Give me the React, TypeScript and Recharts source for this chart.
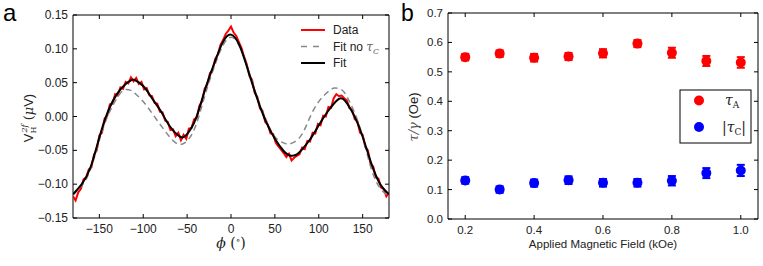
import {
  LineChart,
  Line,
  XAxis,
  YAxis,
  ReferenceArea,
  ScatterChart,
  Scatter,
  ErrorBar,
} from "recharts";

// ---------- panel a ----------
const fitPhi = [
  -180, -170, -160, -150, -140, -130, -120, -113, -110, -100, -90, -80, -70, -60, -55, -50, -40, -30, -20, -10,
  0, 10, 20, 30, 40, 50, 60, 68, 75, 80, 90, 100, 110, 120, 125, 130, 140, 150, 160, 170, 180,
];
const fitV = [
  -0.115, -0.1, -0.075, -0.031, 0.008, 0.033, 0.048, 0.054, 0.054, 0.045, 0.027, 0.008, -0.014, -0.028, -0.031,
  -0.026, -0.003, 0.038, 0.075, 0.108, 0.121, 0.104, 0.066, 0.026, -0.008, -0.033, -0.051, -0.058, -0.056,
  -0.05, -0.034, -0.013, 0.007, 0.023, 0.027, 0.023, 0.002, -0.03, -0.07, -0.1, -0.115,
];

const noTcPhi = [
  -180, -170, -160, -150, -140, -130, -122, -115, -110, -100, -90, -80, -70, -60, -50, -40, -30, -20, -10,
  0, 10, 20, 30, 40, 50, 60, 65, 70, 80, 90, 100, 110, 118, 125, 130, 140, 150, 160, 170, 180,
];
const noTcV = [
  -0.116, -0.102, -0.078, -0.035, 0.002, 0.027, 0.039, 0.039, 0.035, 0.022, 0.005, -0.013, -0.03, -0.041,
  -0.036, -0.013, 0.03, 0.07, 0.103, 0.117, 0.103, 0.068, 0.028, -0.005, -0.03, -0.039, -0.041, -0.039,
  -0.028, -0.001, 0.022, 0.036, 0.042, 0.04, 0.034, 0.008, -0.03, -0.078, -0.106, -0.118,
];

const dataPhi = [
  -180, -177, -174, -171, -168, -165, -162, -159, -156, -153, -150, -147, -144, -141, -138, -135, -132, -129,
  -126, -123, -120, -117, -114, -111, -108, -105, -102, -99, -96, -93, -90, -87, -84, -81, -78, -75, -72, -69,
  -66, -63, -60, -57, -54, -51, -48, -45, -42, -39, -36, -33, -30, -27, -24, -21, -18, -15, -12, -9, -6, -3,
  0, 3, 6, 9, 12, 15, 18, 21, 24, 27, 30, 33, 36, 39, 42, 45, 48, 51, 54, 57, 60, 63, 66, 69, 72, 75, 78, 81,
  84, 87, 90, 93, 96, 99, 102, 105, 108, 111, 114, 117, 120, 123, 126, 129, 132, 135, 138, 141, 144, 147, 150,
  153, 156, 159, 162, 165, 168, 171, 174, 177, 180,
];
const dataV = [
  -0.118, -0.124, -0.112, -0.107, -0.093, -0.09, -0.078, -0.075, -0.056, -0.05, -0.028, -0.024, -0.003, 0.001,
  0.018, 0.019, 0.033, 0.031, 0.043, 0.041, 0.051, 0.049, 0.058, 0.052, 0.057, 0.048, 0.051, 0.04, 0.042,
  0.031, 0.03, 0.02, 0.019, 0.007, 0.006, -0.006, -0.008, -0.02, -0.019, -0.029, -0.024, -0.035, -0.027,
  -0.033, -0.018, -0.017, -0.004, -0.002, 0.016, 0.022, 0.041, 0.047, 0.064, 0.069, 0.085, 0.091, 0.106,
  0.113, 0.122, 0.127, 0.133, 0.124, 0.119, 0.11, 0.101, 0.088, 0.077, 0.06, 0.054, 0.035, 0.029, 0.012,
  0.008, -0.008, -0.012, -0.025, -0.026, -0.039, -0.044, -0.049, -0.054, -0.06, -0.055, -0.065, -0.061,
  -0.058, -0.056, -0.046, -0.048, -0.036, -0.037, -0.024, -0.025, -0.011, -0.013, 0.001, 0.0, 0.014, 0.013,
  0.027, 0.033, 0.03, 0.031, 0.027, 0.024, 0.012, 0.01, -0.004, -0.007, -0.024, -0.027, -0.045, -0.05, -0.07,
  -0.074, -0.09, -0.092, -0.105, -0.107, -0.118, -0.113,
];

const aXTicks = [-150, -100, -50, 0, 50, 100, 150];
const aYTicks = [-0.15, -0.1, -0.05, 0, 0.05, 0.1, 0.15];

// ---------- panel b ----------
const fields = [0.2, 0.3, 0.4, 0.5, 0.6, 0.7, 0.8, 0.9, 1.0];
const tauA = [0.55, 0.562, 0.548, 0.552, 0.563, 0.596, 0.565, 0.537, 0.532];
const tauAErr = [0.011, 0.011, 0.013, 0.012, 0.014, 0.012, 0.017, 0.017, 0.018];
const tauC = [0.131, 0.1, 0.122, 0.132, 0.123, 0.123, 0.13, 0.156, 0.165];
const tauCErr = [0.011, 0.011, 0.012, 0.013, 0.013, 0.013, 0.016, 0.017, 0.019];

const bXTicks = [0.2, 0.4, 0.6, 0.8, 1.0];
const bYTicks = [0, 0.1, 0.2, 0.3, 0.4, 0.5, 0.6, 0.7];

const fitData = fitPhi.map((p, i) => ({ phi: p, v: fitV[i] }));
const noTcData = noTcPhi.map((p, i) => ({ phi: p, v: noTcV[i] }));
const rawData = dataPhi.map((p, i) => ({ phi: p, v: dataV[i] }));
const aData = fields.map((f, i) => ({ field: f, tau: tauA[i], err: tauAErr[i] }));
const cData = fields.map((f, i) => ({ field: f, tau: tauC[i], err: tauCErr[i] }));

const SANS = "'Liberation Sans', Arial, sans-serif";
const SERIF = "'DejaVu Serif', 'Liberation Serif', serif";
const TXT = "#222";

const minus = (s: string) => s.replace("-", "\u2212");

// ticks drawn inward, mirrored on the opposite side
const BottomTick = (props: any) => {
  const { x, y, payload, plotH, fmt, fs } = props;
  return (
    <g>
      <line x1={x} y1={y} x2={x} y2={y - 4} stroke="#000" />
      <line x1={x} y1={y - plotH} x2={x} y2={y - plotH + 4} stroke="#000" />
      <text x={x} y={y + 15} textAnchor="middle" fontSize={fs} fontFamily={SANS} fill={TXT}>
        {fmt(payload.value)}
      </text>
    </g>
  );
};

const LeftTick = (props: any) => {
  const { x, y, payload, plotW, fmt, fs } = props;
  return (
    <g>
      <line x1={x} y1={y} x2={x + 4} y2={y} stroke="#000" />
      <line x1={x + plotW} y1={y} x2={x + plotW - 4} y2={y} stroke="#000" />
      <text x={x - 5} y={y + 4} textAnchor="end" fontSize={fs} fontFamily={SANS} fill={TXT}>
        {fmt(payload.value)}
      </text>
    </g>
  );
};

const Dot = (color: string) => (p: any) => <circle cx={p.cx} cy={p.cy} r={5} fill={color} />;

export default function App() {
  return (
    <div style={{ position: "absolute", left: 0, top: 0, width: 763, height: 266, background: "#fff" }}>
      <div style={{ position: "absolute", left: 0, top: 0 }}>
        <LineChart width={400} height={266} margin={{ top: 15, right: 11, left: 0, bottom: 0 }}>
          <XAxis
            dataKey="phi"
            type="number"
            domain={[-180, 180]}
            ticks={aXTicks}
            height={48}
            tickSize={0}
            tickMargin={0}
            axisLine={false}
            tickLine={false}
            tick={<BottomTick plotH={203} fs={12} fmt={(v: number) => minus(String(v))} />}
            allowDataOverflow
          />
          <YAxis
            type="number"
            domain={[-0.15, 0.15]}
            ticks={aYTicks}
            width={73}
            tickSize={0}
            tickMargin={0}
            axisLine={false}
            tickLine={false}
            tick={<LeftTick plotW={316} fs={12} fmt={(v: number) => minus(v.toFixed(2))} />}
            allowDataOverflow
          />
          <Line
            data={rawData}
            dataKey="v"
            type="linear"
            stroke="#ff0000"
            strokeWidth={2}
            dot={false}
            isAnimationActive={false}
          />
          <Line
            data={noTcData}
            dataKey="v"
            type="natural"
            stroke="#888"
            strokeWidth={1.5}
            strokeDasharray="6 4"
            dot={false}
            isAnimationActive={false}
          />
          <Line
            data={fitData}
            dataKey="v"
            type="natural"
            stroke="#000"
            strokeWidth={2}
            dot={false}
            isAnimationActive={false}
          />
          <ReferenceArea x1={-180} x2={180} y1={-0.15} y2={0.15} fill="none" stroke="#000" strokeWidth={1} />
        </LineChart>
      </div>

      <div style={{ position: "absolute", left: 390, top: 0 }}>
        <ScatterChart width={373} height={266} margin={{ top: 13, right: 5, left: 0, bottom: 0 }}>
          <XAxis
            dataKey="field"
            type="number"
            domain={[0.15, 1.05]}
            ticks={bXTicks}
            height={47}
            tickSize={0}
            tickMargin={0}
            axisLine={false}
            tickLine={false}
            tick={<BottomTick plotH={206} fs={11.5} fmt={(v: number) => v.toFixed(1)} />}
            allowDataOverflow
          />
          <YAxis
            dataKey="tau"
            type="number"
            domain={[0, 0.7]}
            ticks={bYTicks}
            width={58}
            tickSize={0}
            tickMargin={0}
            axisLine={false}
            tickLine={false}
            tick={<LeftTick plotW={310} fs={11.5} fmt={(v: number) => v.toFixed(1)} />}
            allowDataOverflow
          />
          <Scatter data={aData} fill="#ff0000" shape={Dot("#ff0000")} isAnimationActive={false}>
            <ErrorBar dataKey="err" direction="y" width={4} stroke="#ff0000" strokeWidth={2} />
          </Scatter>
          <Scatter data={cData} fill="#0000ff" shape={Dot("#0000ff")} isAnimationActive={false}>
            <ErrorBar dataKey="err" direction="y" width={4} stroke="#0000ff" strokeWidth={2} />
          </Scatter>
          <ReferenceArea x1={0.15} x2={1.05} y1={0} y2={0.7} fill="none" stroke="#000" strokeWidth={1} />
        </ScatterChart>
      </div>

      <svg
        width={763}
        height={266}
        style={{ position: "absolute", left: 0, top: 0, pointerEvents: "none" }}
      >
        {/* panel letters */}
        <text x={3} y={21} fontSize={24} fontFamily={SANS} fill="#000">a</text>
        <text x={401} y={21} fontSize={23} fontFamily={SANS} fill="#000">b</text>

        {/* panel a axis titles */}
        <text transform="translate(33,118) rotate(-90)" textAnchor="middle" fontSize={13} fill={TXT}>
          <tspan fontFamily={SANS}>V</tspan>
          <tspan fontFamily={SERIF} fontSize={8} dy={3}>H</tspan>
          <tspan fontFamily={SERIF} fontStyle="italic" fontSize={8} dx={-6} dy={-9}>2f</tspan>
          <tspan fontFamily={SERIF} dy={6}> (</tspan>
          <tspan fontFamily={SERIF} fontStyle="italic">μ</tspan>
          <tspan fontFamily={SANS}>V)</tspan>
        </text>
        <text x={231} y={248} textAnchor="middle" fontSize={14} fill={TXT} fontFamily={SERIF}>
          <tspan fontStyle="italic">ϕ</tspan>
          <tspan> (</tspan>
          <tspan fontSize={9} dy={-5}>∘</tspan>
          <tspan dy={5}>)</tspan>
        </text>

        {/* panel a legend */}
        <line x1={301} y1={30} x2={325} y2={30} stroke="#ff0000" strokeWidth={2} />
        <text x={333} y={34} fontSize={12} fontFamily={SANS} fill={TXT}>Data</text>
        <line x1={301} y1={46.5} x2={325} y2={46.5} stroke="#888" strokeWidth={1.5} strokeDasharray="6 6" />
        <text x={333} y={51} fontSize={12} fontFamily={SANS} fill={TXT}>
          Fit no <tspan fontFamily={SERIF} fontStyle="italic" fill="#666">τ</tspan>
          <tspan fontFamily={SERIF} fontStyle="italic" fontSize={8} dy={3} fill="#666">C</tspan>
        </text>
        <line x1={301} y1={63} x2={325} y2={63} stroke="#000" strokeWidth={2} />
        <text x={333} y={67} fontSize={12} fontFamily={SANS} fill={TXT}>Fit</text>

        {/* panel b axis titles */}
        <text transform="translate(418,117) rotate(-90)" textAnchor="middle" fontSize={13} fill={TXT}>
          <tspan fontFamily={SERIF} fontStyle="italic" fill="#555">τ/γ</tspan>
          <tspan fontFamily={SANS}> (Oe)</tspan>
        </text>
        <text x={603} y={248} textAnchor="middle" fontSize={11.5} fontFamily={SANS} fill={TXT}>
          Applied Magnetic Field (kOe)
        </text>

        {/* panel b legend */}
        <rect x={680} y={90} width={71} height={53} fill="#fff" stroke="#000" strokeWidth={1} />
        <circle cx={699} cy={100.5} r={5} fill="#ff0000" />
        <text x={725} y={105} fontSize={14} fontFamily={SERIF} fill={TXT}>
          <tspan fontStyle="italic">τ</tspan>
          <tspan fontSize={9} dy={3}>A</tspan>
        </text>
        <circle cx={699} cy={127} r={5} fill="#0000ff" />
        <text x={722} y={132} fontSize={14} fontFamily={SERIF} fill={TXT}>
          <tspan>|</tspan>
          <tspan fontStyle="italic">τ</tspan>
          <tspan fontSize={9} dy={3}>C</tspan>
          <tspan dy={-3}>|</tspan>
        </text>
      </svg>
    </div>
  );
}
